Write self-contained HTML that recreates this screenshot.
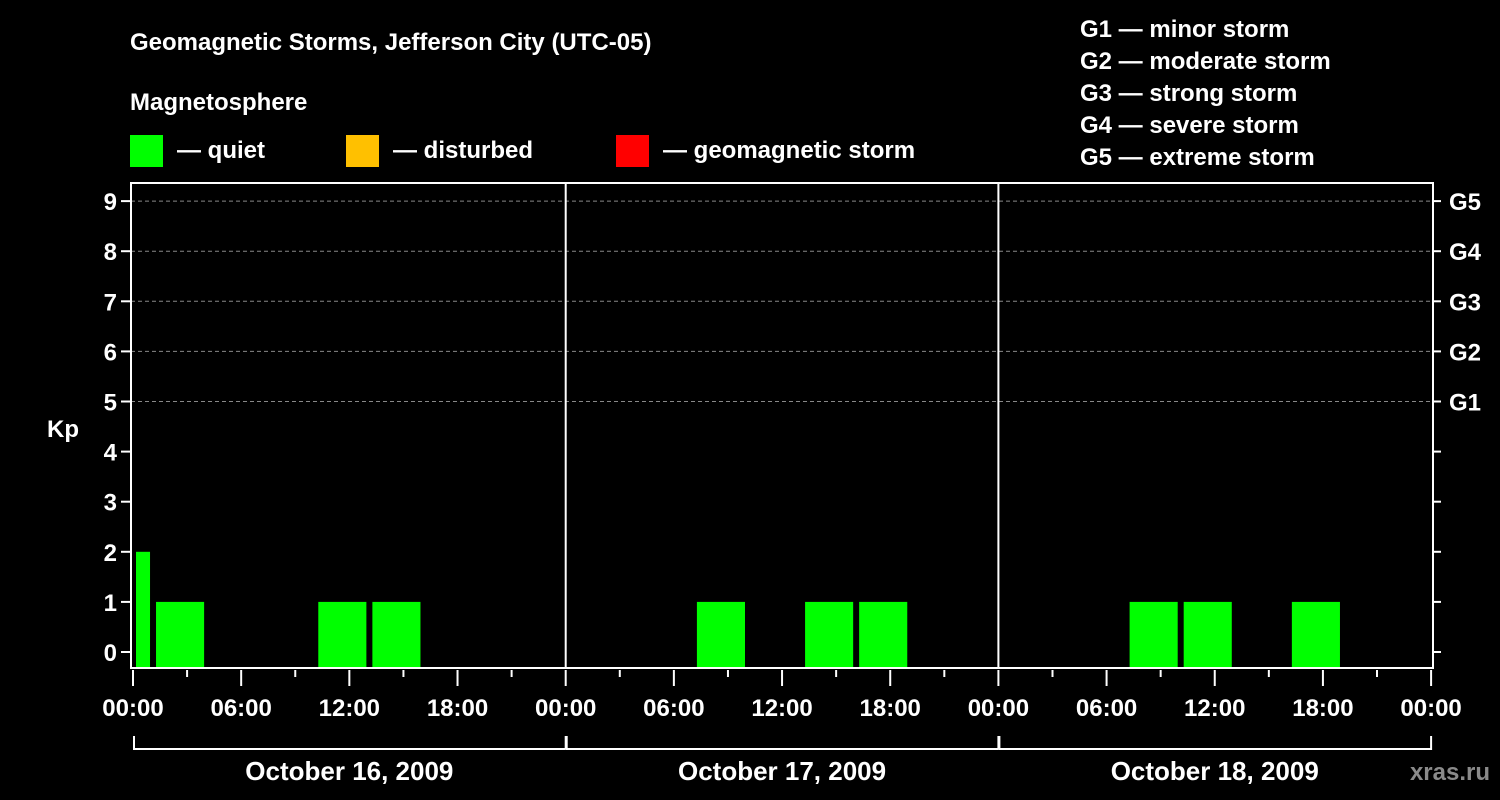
<!DOCTYPE html>
<html><head><meta charset="utf-8"><style>
html,body{margin:0;padding:0;background:#000;width:1500px;height:800px;overflow:hidden}
svg text{font-family:"Liberation Sans",sans-serif;font-weight:bold;fill:#fff}
</style></head><body>
<svg id="c" width="1500" height="800" xmlns="http://www.w3.org/2000/svg">
<text x="130" y="50" font-size="24">Geomagnetic Storms, Jefferson City (UTC-05)</text>
<text x="130" y="110" font-size="24">Magnetosphere</text>
<g><rect x="130" y="135" width="33" height="32" fill="#00ff00"/><text x="177" y="158" font-size="24">— quiet</text></g>
<g><rect x="346" y="135" width="33" height="32" fill="#ffc000"/><text x="393" y="158" font-size="24">— disturbed</text></g>
<g><rect x="616" y="135" width="33" height="32" fill="#ff0000"/><text x="663" y="158" font-size="24">— geomagnetic storm</text></g>
<g font-size="24">
<text x="1080" y="37">G1 — minor storm</text>
<text x="1080" y="69">G2 — moderate storm</text>
<text x="1080" y="101">G3 — strong storm</text>
<text x="1080" y="133">G4 — severe storm</text>
<text x="1080" y="165">G5 — extreme storm</text>
</g>
<text x="63" y="437" font-size="24" text-anchor="middle">Kp</text>
<text x="1490" y="780" font-size="24" text-anchor="end" fill="#888" style="fill:#8a8a8a">xras.ru</text>
<g id="grid"></g><g id="bars"></g><g id="axes"></g>
</svg>
<script>
const kpValues=[2,1,0,0,1,1,0,0,0, 0,0,1,0,1,1,0,0, 0,0,1,1,0,1,0,0];
const yTicks=[0,1,2,3,4,5,6,7,8,9];
const gLabels=["G1","G2","G3","G4","G5"];
const gLevels=[5,6,7,8,9];
const dayLabels=["October 16, 2009","October 17, 2009","October 18, 2009"];
const hourLabels=["00:00","06:00","12:00","18:00"];
const X0=133,DAYW=432.7,L=131,R=1433,T=183,B=668;
const xh=h=>X0+h*DAYW/24;
const y=v=>652-50.1*v;
const NS="http://www.w3.org/2000/svg";
function mk(p,tag,a){const e=document.createElementNS(NS,tag);for(const k in a)e.setAttribute(k,a[k]);document.getElementById(p).appendChild(e);return e;}
yTicks.forEach(v=>{
 if(v>=5){const g=mk('grid','line',{x1:L,x2:R,y1:y(v),y2:y(v),stroke:'#888','stroke-dasharray':'4,3','stroke-width':1});
 
 }
 const t=mk('axes','line',{x1:L-10,x2:L,y1:y(v),y2:y(v),stroke:'#fff','stroke-width':2});
 
 
 const r=mk('axes','line',{x1:R,x2:R+8,y1:y(v),y2:y(v),stroke:'#fff','stroke-width':2});
 
 
 const l=mk('axes','text',{x:L-14,y:y(v)+9,'font-size':24,'text-anchor':'end'});l.textContent=v;
 
 
});
gLevels.forEach((v,i)=>{const l=mk('axes','text',{x:1449,y:y(v)+9,'font-size':24});l.textContent=gLabels[i];
 
 });
// bars: index 0 is partial interval 22:00-01:00 clipped; then 3h intervals from 01:00
kpValues.forEach((v,i)=>{
 if(v<=0)return;
 let s=i===0?0:1+3*(i-1), e=i===0?1:s+3;
 let x1=xh(s)+(i===0?3:5), x2=xh(e)-(i===0?1:1);
 const b=mk('bars','rect',{x:x1,y:y(v),width:x2-x1,height:B-y(v),fill:'#00ff00'});
 
 
});
const fr=mk('axes','path',{d:`M${L} ${T}H${R}V${B}H${L}Z`,fill:'none',stroke:'#fff','stroke-width':2});


for(let d=1;d<3;d++){const s=mk('axes','line',{x1:xh(24*d),x2:xh(24*d),y1:T,y2:B,stroke:'#fff','stroke-width':2});
 
 }
for(let h=0;h<=72;h+=3){const maj=h%6===0;
 const t=mk('axes','line',{x1:xh(h),x2:xh(h),y1:B+2,y2:maj?B+18:B+9,stroke:'#fff','stroke-width':2});
 
 
 if(maj){const l=mk('axes','text',{x:xh(h),y:B+48,'font-size':24,'text-anchor':'middle'});l.textContent=hourLabels[(h/6)%4];
 
 }}
dayLabels.forEach((d,i)=>{
 const p=mk('axes','path',{d:`M${xh(24*i)+1} 736V749H${xh(24*(i+1))}`+(i===2?'V736':''),fill:'none',stroke:'#fff','stroke-width':2});
 
 
 if(i>0){const v=mk('axes','line',{x1:xh(24*i),x2:xh(24*i),y1:736,y2:749,stroke:'#fff','stroke-width':2});
 
 }
 const t=mk('axes','text',{x:xh(24*i+12),y:780,'font-size':26,'text-anchor':'middle'});t.textContent=d;
 
 
});
</script>
</body></html>
